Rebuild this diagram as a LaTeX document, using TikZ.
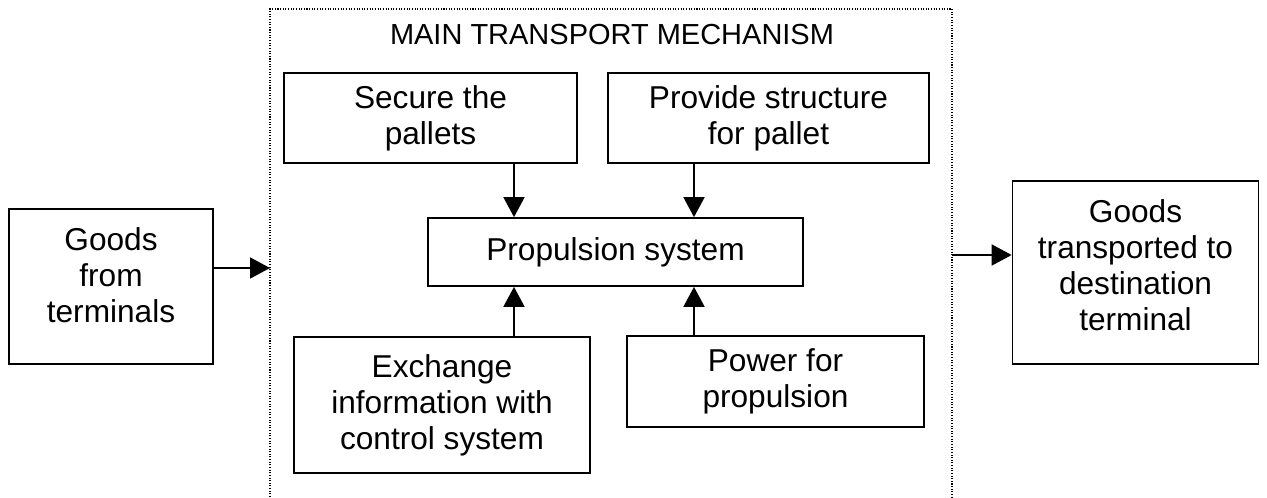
\documentclass[tikz,border=0pt]{standalone}
\usepackage{fontspec}
\setmainfont{Liberation Sans}
\usetikzlibrary{arrows.meta}

\tikzset{
  fbox/.style={draw, line width=1pt, align=center, inner sep=0pt,
    font=\fontsize{18}{20.5}\selectfont},
  flow/.style={line width=1pt, -{Triangle[length=0.4cm,width=0.42cm]}},
  border/.style={line width=0.8pt, dash pattern=on 0.6pt off 0.9pt}
}

\begin{document}
\begin{tikzpicture}[x=0.02cm,y=-0.02cm]
  \useasboundingbox (0,0) rectangle (1267,497);

  % dotted frame of the mechanism
  \draw[border] (270,497) -- (270,9) -- (952,9) -- (952,497);
  \node[font=\fontsize{16.5}{18}\selectfont, inner sep=0pt] (title) at (612,35) {MAIN TRANSPORT MECHANISM};

  % boxes
  \node[fbox, minimum width=4.08cm, minimum height=3.1cm, text depth=0.44cm] (src) at (111,286.5) {Goods\\from\\terminals};
  \node[fbox, minimum width=4.92cm, minimum height=3.66cm, text depth=0.28cm] (dst) at (1135.5,272.5) {Goods\\transported to\\destination\\terminal};
  \node[fbox, minimum width=5.86cm, minimum height=1.8cm] (secure) at (430.5,118) {Secure the\\pallets};
  \node[fbox, minimum width=6.42cm, minimum height=1.8cm] (struct) at (768.5,118) {Provide structure\\for pallet};
  \node[fbox, minimum width=7.5cm, minimum height=1.36cm] (prop) at (615.5,252) {Propulsion system};
  \node[fbox, minimum width=5.92cm, minimum height=2.72cm] (info) at (442,405) {Exchange\\information with\\control system};
  \node[fbox, minimum width=5.94cm, minimum height=1.82cm] (power) at (775.5,381.5) {Power for\\propulsion};

  % connectors
  \coordinate (c1) at (514,0);
  \coordinate (c2) at (694,0);
  \coordinate (inL) at (270,268);
  \coordinate (outR) at (952,255);
  \draw[flow] (src.east |- inL) -- (inL);
  \draw[flow] (outR) -- (dst.west |- outR);
  \draw[flow] (secure.south -| c1) -- (prop.north -| c1);
  \draw[flow] (struct.south -| c2) -- (prop.north -| c2);
  \draw[flow] (info.north -| c1) -- (prop.south -| c1);
  \draw[flow] (power.north -| c2) -- (prop.south -| c2);
\end{tikzpicture}
\end{document}
